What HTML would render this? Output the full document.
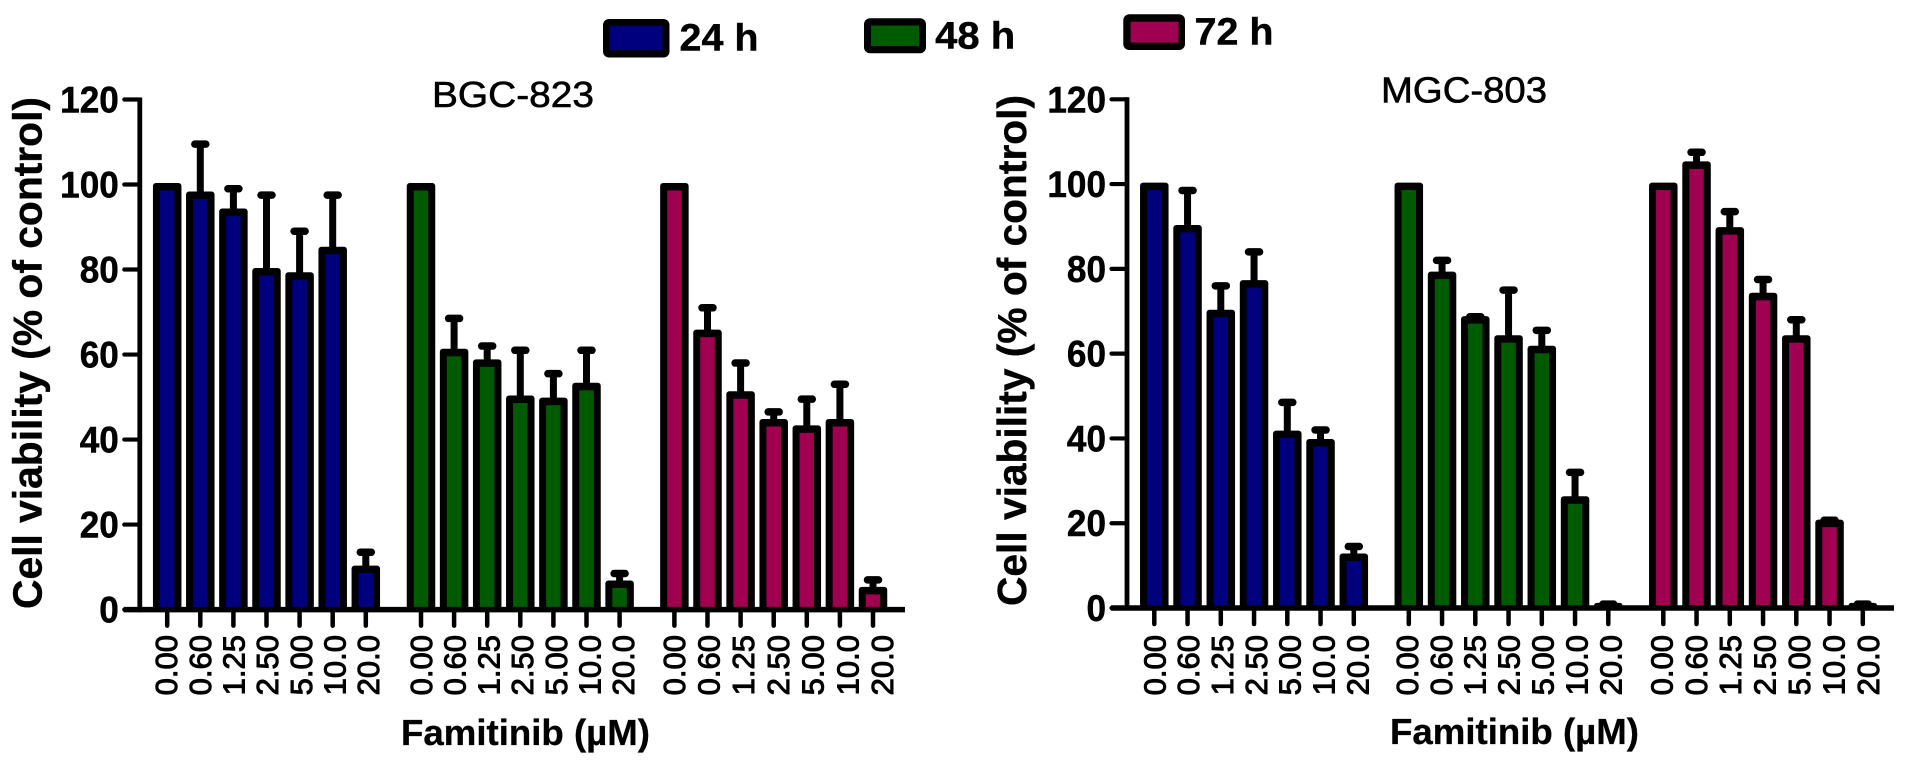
<!DOCTYPE html>
<html lang="en">
<head>
<meta charset="utf-8">
<title>Cell viability under Famitinib</title>
<style>
html,body{margin:0;padding:0;background:#fff;}
svg{display:block;}
text{font-family:"Liberation Sans",Arial,sans-serif;fill:#000;}
</style>
</head>
<body>
<svg id="figure" xmlns="http://www.w3.org/2000/svg" width="1913" height="765" viewBox="0 0 1913 765">
  <rect x="0" y="0" width="1913" height="765" fill="#fff"/>
  <g>
    <g>
      <rect x="603" y="19" width="66.5" height="38.5" rx="6" fill="#000"/>
      <rect x="609.5" y="25.7" width="53" height="24.5" fill="#00007f"/>
      <text x="679.5" y="50.3" font-size="38" font-weight="bold" stroke="#000" stroke-width="0.4" textLength="79" lengthAdjust="spacingAndGlyphs">24 h</text>
    </g>
    <g>
      <rect x="864" y="18.3" width="62" height="35" rx="6" fill="#000"/>
      <rect x="871" y="25.5" width="48" height="20.5" fill="#005a00"/>
      <text x="935.2" y="48.3" font-size="38" font-weight="bold" stroke="#000" stroke-width="0.4" textLength="80" lengthAdjust="spacingAndGlyphs">48 h</text>
    </g>
    <g>
      <rect x="1123.3" y="14.3" width="61.7" height="35.7" rx="6" fill="#000"/>
      <rect x="1130.5" y="21.7" width="48" height="21" fill="#a00050"/>
      <text x="1194.5" y="44.3" font-size="38" font-weight="bold" stroke="#000" stroke-width="0.4" textLength="79" lengthAdjust="spacingAndGlyphs">72 h</text>
    </g>
  </g>
  <text x="432" y="107" font-size="36" stroke="#000" stroke-width="0.6" textLength="162" lengthAdjust="spacingAndGlyphs">BGC-823</text>
  <text x="1381" y="102.3" font-size="36" stroke="#000" stroke-width="0.6" textLength="166" lengthAdjust="spacingAndGlyphs">MGC-803</text>
  <text transform="translate(41.5,609) rotate(-90)" font-size="40.7" font-weight="bold" stroke="#000" stroke-width="0.4" textLength="512" lengthAdjust="spacingAndGlyphs">Cell viability (% of control)</text>
  <text transform="translate(1026,606) rotate(-90)" font-size="40.7" font-weight="bold" stroke="#000" stroke-width="0.4" textLength="511" lengthAdjust="spacingAndGlyphs">Cell viability (% of control)</text>
  <text x="401" y="745" font-size="36" font-weight="bold" stroke="#000" stroke-width="0.3" textLength="249" lengthAdjust="spacingAndGlyphs">Famitinib (µM)</text>
  <text x="1390" y="744" font-size="36" font-weight="bold" stroke="#000" stroke-width="0.3" textLength="249" lengthAdjust="spacingAndGlyphs">Famitinib (µM)</text>
</svg>
<script>
// ---- chart data ----
const doseLabels = ['0.00', '0.60', '1.25', '2.50', '5.00', '10.0', '20.0'];
const yTickValues = [0, 20, 40, 60, 80, 100, 120];
const timeGroups = ['24h', '48h', '72h'];

const bgc24Means = [100, 98, 94, 80, 79, 85, 10];
const bgc24ErrorTops = [100, 109.5, 99, 97.5, 89, 97.5, 13.5];
const bgc48Means = [100, 61, 58.5, 50, 49.5, 53, 6.5];
const bgc48ErrorTops = [100, 68.5, 62, 61, 55.5, 61, 8.5];
const bgc72Means = [100, 65.5, 51, 44.5, 43, 44.5, 5];
const bgc72ErrorTops = [100, 71, 58, 46.5, 49.5, 53, 7];

const mgc24Means = [100, 90, 70, 77, 41.5, 39.5, 12.5];
const mgc24ErrorTops = [100, 98.5, 76, 84, 48.5, 42, 14.5];
const mgc48Means = [100, 79, 68.5, 64, 61.5, 26, 0.85];
const mgc48ErrorTops = [100, 82, 68.7, 75, 65.5, 32, 0.9];
const mgc72Means = [100, 105, 89.5, 74, 64, 20.5, 0.85];
const mgc72ErrorTops = [100, 107.5, 93.5, 77.5, 68, 20.7, 0.9];

const bgcMeans = [bgc24Means, bgc48Means, bgc72Means];
const bgcErrorTops = [bgc24ErrorTops, bgc48ErrorTops, bgc72ErrorTops];
const mgcMeans = [mgc24Means, mgc48Means, mgc72Means];
const mgcErrorTops = [mgc24ErrorTops, mgc48ErrorTops, mgc72ErrorTops];

// ---- layout ----
const groupColors = { '24h': '#00007f', '48h': '#005a00', '72h': '#a00050' };
const SVG_NS = 'http://www.w3.org/2000/svg';
const figure = document.getElementById('figure');

function mk(tag, parent, attrs) {
  const el = document.createElementNS(SVG_NS, tag);
  for (const k in attrs) el.setAttribute(k, attrs[k]);
  parent.appendChild(el);
  return el;
}

function drawPanel(panel, means, errorTops) {
  const yScale = v => panel.y0 - (panel.y0 - panel.y120) * v / 120;
  const xBand = (g, i) => panel.groupStarts[g] + panel.step * i;

  const root = mk('g', figure, {});
  
  

  // bars + error bars
  timeGroups.forEach((group, g) => {
    doseLabels.forEach((dose, i) => {
      const cx = xBand(g, i);
      const mean = means[g][i];
      const top = errorTops[g][i];
      const yTop = yScale(mean) - 1.5;
      const yTopCap = yScale(top);

      if (top > mean + 0.01) {
        const stem = mk('line', root, { x1: cx, x2: cx, y1: yTop + 4, y2: yTopCap, stroke: '#000', 'stroke-width': 7 });
        
        
        const cap = mk('line', root, { x1: cx - 5.5, x2: cx + 5.5, y1: yTopCap, y2: yTopCap, stroke: '#000', 'stroke-width': 7.5, 'stroke-linecap': 'round' });
        
        
      }

      const outer = mk('rect', root, { x: cx - 14.25, y: yTop, width: 28.5, height: panel.y0 - yTop, rx: 3, fill: '#000' });
      
      

      const innerTop = yTop + 7.5;
      if (panel.y0 - innerTop > 0) {
        const inner = mk('rect', root, { x: cx - 7.25, y: innerTop, width: 14.5, height: panel.y0 - innerTop, fill: groupColors[group] });
        
        
      }

      const tick = mk('line', root, { x1: cx, x2: cx, y1: panel.y0, y2: panel.y0 + 16, stroke: '#000', 'stroke-width': 4.5, 'stroke-linecap': 'round' });
      
      

      const lx = cx + panel.labelBase[g] + panel.labelDrift[g] * i;
      const label = mk('text', root, { transform: 'translate(' + lx + ',635) rotate(-90)', 'text-anchor': 'end', 'font-size': 31, stroke: '#000', 'stroke-width': 1 });
      
      
      label.textContent = dose;
    });
  });

  // axes
  const yAxis = mk('line', root, { x1: panel.axisX, x2: panel.axisX, y1: panel.y120 - 2, y2: panel.y0 + 2.5, stroke: '#000', 'stroke-width': 4.8 });
  
  

  const xAxis = mk('line', root, { x1: panel.axisX - 16, x2: panel.xEnd, y1: panel.y0, y2: panel.y0, stroke: '#000', 'stroke-width': 5.5 });
  
  

  yTickValues.forEach(v => {
    const y = yScale(v);
    const t = mk('line', root, { x1: panel.axisX - 15.5, x2: panel.axisX, y1: y, y2: y, stroke: '#000', 'stroke-width': 4.2, 'stroke-linecap': 'round' });
    
    
    const lab = mk('text', root, { transform: 'translate(' + (panel.axisX - 21) + ',' + (y + 13) + ') scale(0.95,1)', 'text-anchor': 'end', 'font-size': 37, 'font-weight': 'bold', stroke: '#000', 'stroke-width': 0.5 });
    
    
    lab.textContent = String(v);
  });
}

drawPanel({
  id: 'bgc-823', axisX: 139.8, xEnd: 905, y0: 609.6, y120: 99.5,
  groupStarts: [167.2, 421, 674.4], step: 33.1,
  labelBase: [10, 11, 10.4], labelDrift: [0.55, 0.6, 1.6]
}, bgcMeans, bgcErrorTops);

drawPanel({
  id: 'mgc-803', axisX: 1127, xEnd: 1894, y0: 608, y120: 99.3,
  groupStarts: [1154.3, 1408.8, 1663.3], step: 33.25,
  labelBase: [11, 9, 9], labelDrift: [0.6, 0.7, 1.2]
}, mgcMeans, mgcErrorTops);
</script>
</body>
</html>
